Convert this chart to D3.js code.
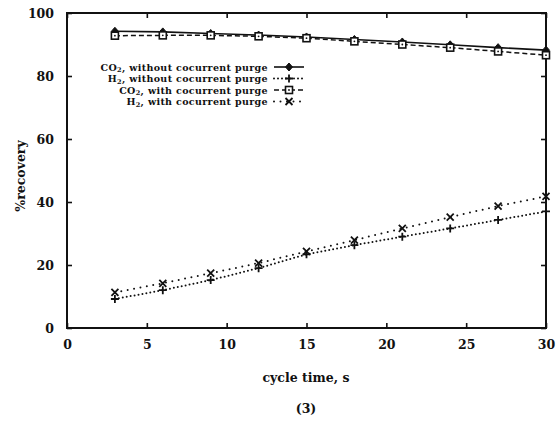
<!DOCTYPE html>
<html>
<head>
<meta charset="utf-8">
<script src="https://cdn.jsdelivr.net/npm/d3@7"></script>
<style>
  html, body { margin: 0; padding: 0; background: #fff; }
  svg { display: block; }
  text { font-family: "DejaVu Serif", "Liberation Serif", serif; font-weight: bold; fill: #111; }
</style>
</head>
<body>
<svg id="chart" width="557" height="430"></svg>
<script>
// cycle time (s) at which recovery was evaluated
const cycleTimes = [3, 6, 9, 12, 15, 18, 21, 24, 27, 30];

// % recovery per case
const co2NoPurge  = [94.2, 94.0, 93.5, 93.0, 92.4, 91.6, 90.8, 89.9, 89.0, 88.2];
const h2NoPurge   = [9.2, 12.0, 15.2, 19.0, 23.4, 26.3, 29.0, 31.6, 34.3, 37.0];
const co2Purge    = [92.8, 92.9, 92.9, 92.6, 92.0, 91.0, 90.0, 89.0, 87.8, 86.6];
const h2Purge     = [11.3, 14.2, 17.4, 20.6, 24.3, 27.9, 31.6, 35.2, 38.7, 41.8];

const seriesNames = [
  ["CO", "2", ", without cocurrent purge"],
  ["H", "2", ", without cocurrent purge"],
  ["CO", "2", ", with cocurrent purge"],
  ["H", "2", ", with cocurrent purge"]
];

const xTicks = [0, 5, 10, 15, 20, 25, 30];
const yTicks = [0, 20, 40, 60, 80, 100];

const xTitle = "cycle time, s";
const yTitle = "%recovery";
const caption = "(3)";

const svg = d3.select("#chart");
const plotLeft = 67, plotRight = 546, plotTop = 13, plotBottom = 328;

const x = d3.scaleLinear().domain([0, 30]).range([plotLeft, plotRight]);
const y = d3.scaleLinear().domain([0, 100]).range([plotBottom, plotTop]);

const ink = "#111";

// axes with inward ticks
const gx = svg.append("g").attr("transform", `translate(0,${plotBottom})`)
  .call(d3.axisBottom(x).tickValues(xTicks).tickSizeInner(-5).tickSizeOuter(0).tickPadding(12).tickFormat(d3.format("d")));
const gxTop = svg.append("g").attr("transform", `translate(0,${plotTop})`)
  .call(d3.axisTop(x).tickValues(xTicks).tickSizeInner(-5).tickSizeOuter(0).tickFormat(""));
const gy = svg.append("g").attr("transform", `translate(${plotLeft},0)`)
  .call(d3.axisLeft(y).tickValues(yTicks).tickSizeInner(-5).tickSizeOuter(0).tickPadding(13).tickFormat(d3.format("d")));
const gyRight = svg.append("g").attr("transform", `translate(${plotRight},0)`)
  .call(d3.axisRight(y).tickValues(yTicks).tickSizeInner(-5).tickSizeOuter(0).tickFormat(""));

[gx, gxTop, gy, gyRight].forEach(g => {
  g.select(".domain").remove();
  g.selectAll(".tick line").attr("stroke", ink).attr("stroke-width", 1.6);
  g.selectAll(".tick text").attr("font-size", 12.5).attr("fill", ink)
    .style("font-family", '"DejaVu Serif", serif').style("font-weight", "bold");
});

// plot frame
svg.append("rect")
  .attr("x", plotLeft).attr("y", plotTop)
  .attr("width", plotRight - plotLeft).attr("height", plotBottom - plotTop)
  .attr("fill", "none").attr("stroke", ink).attr("stroke-width", 2);

// titles
svg.append("text").attr("x", 306).attr("y", 382).attr("text-anchor", "middle")
  .attr("font-size", 12.5).text(xTitle);
svg.append("text").attr("x", 306).attr("y", 413).attr("text-anchor", "middle")
  .attr("font-size", 12.5).text(caption);
svg.append("text").attr("transform", "translate(25,176) rotate(-90)")
  .attr("text-anchor", "middle").attr("font-size", 12.5).text(yTitle);

// marker shapes
function marker(g, kind, cx, cy) {
  if (kind === "diamond") {
    g.append("path").attr("d", `M${cx},${cy - 4}L${cx + 3.5},${cy}L${cx},${cy + 4}L${cx - 3.5},${cy}Z`)
      .attr("fill", ink).attr("stroke", ink).attr("stroke-width", 1);
  } else if (kind === "plus") {
    g.append("path").attr("d", `M${cx - 4},${cy}H${cx + 4}M${cx},${cy - 4}V${cy + 4}`)
      .attr("stroke", ink).attr("stroke-width", 1.8).attr("fill", "none");
  } else if (kind === "box") {
    g.append("rect").attr("x", cx - 3.5).attr("y", cy - 3.5).attr("width", 7).attr("height", 7)
      .attr("fill", "#fff").attr("stroke", ink).attr("stroke-width", 1.6);
    g.append("circle").attr("cx", cx).attr("cy", cy).attr("r", 0.9).attr("fill", ink);
  } else if (kind === "cross") {
    g.append("path").attr("d", `M${cx - 3.5},${cy - 3.5}L${cx + 3.5},${cy + 3.5}M${cx - 3.5},${cy + 3.5}L${cx + 3.5},${cy - 3.5}`)
      .attr("stroke", ink).attr("stroke-width", 1.8).attr("fill", "none");
  }
}

const series = [
  { values: co2NoPurge, dash: null,    width: 1.6, marker: "diamond", cap: "butt" },
  { values: h2NoPurge,  dash: "0 4",   width: 2.0, marker: "plus",    cap: "round" },
  { values: co2Purge,   dash: "5 3",   width: 1.5, marker: "box",     cap: "butt" },
  { values: h2Purge,    dash: "0 6.5", width: 2.0, marker: "cross",   cap: "round" }
];

const line = d3.line().x(d => x(d[0])).y(d => y(d[1]));

series.forEach(s => {
  const pts = cycleTimes.map((t, i) => [t, s.values[i]]);
  svg.append("path").datum(pts).attr("d", line)
    .attr("fill", "none").attr("stroke", ink).attr("stroke-width", s.width)
    .attr("stroke-linecap", s.cap)
    .attr("stroke-dasharray", s.dash);
  const g = svg.append("g");
  pts.forEach(p => marker(g, s.marker, x(p[0]), y(p[1])));
});

// legend: right-aligned labels with sample line and marker
const legendRows = [67, 78.5, 90, 101.5];
const textRight = 268, sampleX0 = 274, sampleX1 = 304;
series.forEach((s, i) => {
  const ly = legendRows[i];
  const t = svg.append("text").attr("x", textRight).attr("y", ly + 3.5)
    .attr("text-anchor", "end").attr("font-size", 9.5)
    .style("letter-spacing", "0.35px")
    .style("font-family", '"DejaVu Serif", serif');
  const parts = seriesNames[i];
  t.append("tspan").text(parts[0]);
  t.append("tspan").attr("font-size", 6.5).attr("dy", 1.8).text(parts[1]);
  t.append("tspan").attr("dy", -1.8).text(parts[2]);
  svg.append("line").attr("x1", sampleX0).attr("x2", sampleX1).attr("y1", ly).attr("y2", ly)
    .attr("stroke", ink).attr("stroke-width", s.width)
    .attr("stroke-linecap", s.cap)
    .attr("stroke-dasharray", s.dash);
  marker(svg, s.marker, (sampleX0 + sampleX1) / 2, ly);
});
</script>
</body>
</html>
